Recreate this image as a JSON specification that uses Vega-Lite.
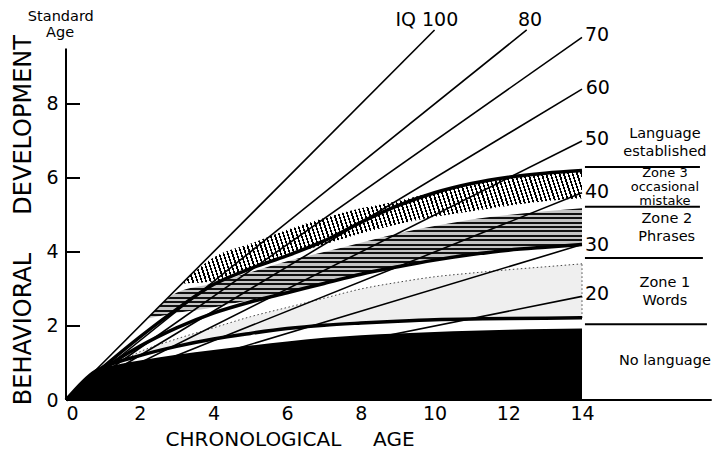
{
  "$schema": "https://vega.github.io/schema/vega-lite/v6.json",
  "width": 652,
  "height": 400,
  "autosize": {"type": "none"},
  "padding": {"left": 66, "top": 0, "right": 0, "bottom": 61},
  "background": "white",
  "config": {
    "view": {"stroke": null},
    "font": "DejaVu Sans",
    "axis": {"grid": false, "domain": false, "ticks": false, "title": null, "labelFont": "DejaVu Sans", "labelFontSize": 19, "labelColor": "black"}
  },
  "datasets": {
    "iq": [
      {"iq": "100", "x": 0, "y": 0}, {"iq": "100", "x": 10, "y": 10},
      {"iq": "80", "x": 0, "y": 0}, {"iq": "80", "x": 12.5, "y": 10},
      {"iq": "70", "x": 0, "y": 0}, {"iq": "70", "x": 14, "y": 9.8},
      {"iq": "60", "x": 0, "y": 0}, {"iq": "60", "x": 14, "y": 8.4},
      {"iq": "50", "x": 0, "y": 0}, {"iq": "50", "x": 14, "y": 7.0},
      {"iq": "40", "x": 0, "y": 0}, {"iq": "40", "x": 14, "y": 5.6},
      {"iq": "30", "x": 0, "y": 0}, {"iq": "30", "x": 14, "y": 4.2},
      {"iq": "20", "x": 0, "y": 0}, {"iq": "20", "x": 14, "y": 2.8}
    ],
    "curves": [
      {"c": "A", "x": 0, "y": 0}, {"c": "A", "x": 0.8, "y": 0.78}, {"c": "A", "x": 1, "y": 0.88}, {"c": "A", "x": 2, "y": 1.2}, {"c": "A", "x": 3, "y": 1.45}, {"c": "A", "x": 4, "y": 1.65}, {"c": "A", "x": 5, "y": 1.8}, {"c": "A", "x": 6, "y": 1.93}, {"c": "A", "x": 7, "y": 2.02}, {"c": "A", "x": 8, "y": 2.08}, {"c": "A", "x": 9, "y": 2.13}, {"c": "A", "x": 10, "y": 2.17}, {"c": "A", "x": 11, "y": 2.19}, {"c": "A", "x": 12, "y": 2.2}, {"c": "A", "x": 13, "y": 2.21}, {"c": "A", "x": 14, "y": 2.22},
      {"c": "B", "x": 0, "y": 0}, {"c": "B", "x": 1, "y": 0.82}, {"c": "B", "x": 2, "y": 1.45}, {"c": "B", "x": 3, "y": 1.95}, {"c": "B", "x": 4, "y": 2.35}, {"c": "B", "x": 5, "y": 2.65}, {"c": "B", "x": 6, "y": 2.9}, {"c": "B", "x": 7, "y": 3.15}, {"c": "B", "x": 8, "y": 3.4}, {"c": "B", "x": 9, "y": 3.6}, {"c": "B", "x": 10, "y": 3.78}, {"c": "B", "x": 11, "y": 3.93}, {"c": "B", "x": 12, "y": 4.05}, {"c": "B", "x": 13, "y": 4.13}, {"c": "B", "x": 14, "y": 4.2},
      {"c": "C", "x": 0, "y": 0}, {"c": "C", "x": 1, "y": 0.88}, {"c": "C", "x": 2, "y": 1.7}, {"c": "C", "x": 3, "y": 2.45}, {"c": "C", "x": 4, "y": 3.12}, {"c": "C", "x": 5, "y": 3.55}, {"c": "C", "x": 6, "y": 3.9}, {"c": "C", "x": 7, "y": 4.3}, {"c": "C", "x": 8, "y": 4.8}, {"c": "C", "x": 9, "y": 5.25}, {"c": "C", "x": 10, "y": 5.6}, {"c": "C", "x": 11, "y": 5.85}, {"c": "C", "x": 12, "y": 6.02}, {"c": "C", "x": 13, "y": 6.13}, {"c": "C", "x": 14, "y": 6.2}
    ],
    "bands": [
      {"band": "Z3", "x": 3.2, "top": 3.2, "bot": 3.15}, {"band": "Z3", "x": 4, "top": 3.85, "bot": 3.2}, {"band": "Z3", "x": 5, "top": 4.22, "bot": 3.55}, {"band": "Z3", "x": 6, "top": 4.6, "bot": 3.9}, {"band": "Z3", "x": 7, "top": 4.92, "bot": 4.2}, {"band": "Z3", "x": 8, "top": 5.18, "bot": 4.5}, {"band": "Z3", "x": 9, "top": 5.38, "bot": 4.75}, {"band": "Z3", "x": 10, "top": 5.62, "bot": 4.95}, {"band": "Z3", "x": 11, "top": 5.86, "bot": 5.1}, {"band": "Z3", "x": 12, "top": 6.02, "bot": 5.25}, {"band": "Z3", "x": 13, "top": 6.13, "bot": 5.37}, {"band": "Z3", "x": 14, "top": 6.2, "bot": 5.45},
      {"band": "Z2", "x": 2.2, "top": 2.2, "bot": 2.2}, {"band": "Z2", "x": 3, "top": 2.9, "bot": 2.35}, {"band": "Z2", "x": 4, "top": 3.15, "bot": 2.5}, {"band": "Z2", "x": 5, "top": 3.45, "bot": 2.7}, {"band": "Z2", "x": 6, "top": 3.75, "bot": 2.9}, {"band": "Z2", "x": 7, "top": 4.0, "bot": 3.15}, {"band": "Z2", "x": 8, "top": 4.25, "bot": 3.4}, {"band": "Z2", "x": 9, "top": 4.5, "bot": 3.6}, {"band": "Z2", "x": 10, "top": 4.7, "bot": 3.78}, {"band": "Z2", "x": 11, "top": 4.88, "bot": 3.93}, {"band": "Z2", "x": 12, "top": 5.0, "bot": 4.05}, {"band": "Z2", "x": 13, "top": 5.1, "bot": 4.13}, {"band": "Z2", "x": 14, "top": 5.18, "bot": 4.2},
      {"band": "Z1", "x": 1.5, "top": 1.05, "bot": 1.04}, {"band": "Z1", "x": 2, "top": 1.3, "bot": 1.2}, {"band": "Z1", "x": 3, "top": 1.65, "bot": 1.45}, {"band": "Z1", "x": 4, "top": 1.95, "bot": 1.65}, {"band": "Z1", "x": 5, "top": 2.25, "bot": 1.8}, {"band": "Z1", "x": 6, "top": 2.5, "bot": 1.93}, {"band": "Z1", "x": 7, "top": 2.75, "bot": 2.02}, {"band": "Z1", "x": 8, "top": 3.0, "bot": 2.08}, {"band": "Z1", "x": 9, "top": 3.18, "bot": 2.13}, {"band": "Z1", "x": 10, "top": 3.33, "bot": 2.17}, {"band": "Z1", "x": 11, "top": 3.43, "bot": 2.19}, {"band": "Z1", "x": 12, "top": 3.52, "bot": 2.2}, {"band": "Z1", "x": 13, "top": 3.6, "bot": 2.21}, {"band": "Z1", "x": 14, "top": 3.68, "bot": 2.22},
      {"band": "NL", "x": 0, "top": 0, "bot": 0}, {"band": "NL", "x": 0.5, "top": 0.5, "bot": 0}, {"band": "NL", "x": 0.8, "top": 0.78, "bot": 0}, {"band": "NL", "x": 1.5, "top": 0.98, "bot": 0}, {"band": "NL", "x": 2, "top": 1.07, "bot": 0}, {"band": "NL", "x": 3, "top": 1.22, "bot": 0}, {"band": "NL", "x": 4, "top": 1.35, "bot": 0}, {"band": "NL", "x": 5, "top": 1.47, "bot": 0}, {"band": "NL", "x": 6, "top": 1.58, "bot": 0}, {"band": "NL", "x": 7, "top": 1.68, "bot": 0}, {"band": "NL", "x": 8, "top": 1.75, "bot": 0}, {"band": "NL", "x": 9, "top": 1.8, "bot": 0}, {"band": "NL", "x": 10, "top": 1.84, "bot": 0}, {"band": "NL", "x": 11, "top": 1.87, "bot": 0}, {"band": "NL", "x": 12, "top": 1.9, "bot": 0}, {"band": "NL", "x": 13, "top": 1.92, "bot": 0}, {"band": "NL", "x": 14, "top": 1.93, "bot": 0}
    ],
    "rules": [
      {"x": 0, "x2": 17.52, "y": 0, "y2": 0},
      {"x": 0, "x2": 0, "y": 0, "y2": 9.5},
      {"x": 0, "x2": 0.38, "y": 2, "y2": 2},
      {"x": 0, "x2": 0.38, "y": 4, "y2": 4},
      {"x": 0, "x2": 0.38, "y": 6, "y2": 6},
      {"x": 0, "x2": 0.38, "y": 8, "y2": 8},
      {"x": 14.08, "x2": 17.2, "y": 6.3, "y2": 6.3},
      {"x": 14.08, "x2": 17.2, "y": 5.22, "y2": 5.22},
      {"x": 14.08, "x2": 17.28, "y": 3.84, "y2": 3.84},
      {"x": 14.08, "x2": 17.39, "y": 2.05, "y2": 2.05}
    ],
    "edges": [
      {"x": 14, "y": 2.22, "y2": 3.68}
    ],
    "texts": [
      {"t": "IQ 100", "x": 9.79, "y": 10.27, "kind": "iq"},
      {"t": "80", "x": 12.59, "y": 10.27, "kind": "iq"},
      {"t": "70", "x": 14.41, "y": 9.86, "kind": "iq"},
      {"t": "60", "x": 14.43, "y": 8.43, "kind": "iq"},
      {"t": "50", "x": 14.41, "y": 7.05, "kind": "iq"},
      {"t": "40", "x": 14.41, "y": 5.62, "kind": "iq"},
      {"t": "30", "x": 14.41, "y": 4.19, "kind": "iq"},
      {"t": "20", "x": 14.41, "y": 2.86, "kind": "iq"},
      {"t": "Language", "x": 16.25, "y": 7.18, "kind": "zone"},
      {"t": "established", "x": 16.25, "y": 6.7, "kind": "zone"},
      {"t": "Zone 3", "x": 16.25, "y": 6.135, "kind": "small"},
      {"t": "occasional", "x": 16.25, "y": 5.757, "kind": "small"},
      {"t": "mistake", "x": 16.25, "y": 5.39, "kind": "small"},
      {"t": "Zone 2", "x": 16.3, "y": 4.89, "kind": "zone"},
      {"t": "Phrases", "x": 16.3, "y": 4.41, "kind": "zone"},
      {"t": "Zone 1", "x": 16.25, "y": 3.16, "kind": "zone"},
      {"t": "Words", "x": 16.25, "y": 2.68, "kind": "zone"},
      {"t": "No language", "x": 16.25, "y": 1.05, "kind": "zone"},
      {"t": "Standard", "x": -0.14, "y": 10.35, "kind": "zone"},
      {"t": "Age", "x": -0.16, "y": 9.92, "kind": "zone"},
      {"t": "CHRONOLOGICAL\u00a0\u00a0\u00a0\u00a0\u00a0AGE", "x": 6.08, "y": -1.08, "kind": "xtitle"},
      {"t": "BEHAVIORAL\u00a0\u00a0\u00a0\u00a0\u00a0DEVELOPMENT", "x": -1.14, "y": 4.86, "kind": "ytitle"}
    ]
  },
  "encoding": {
    "x": {"type": "quantitative", "scale": {"domain": [0, 17.69], "nice": false, "zero": false}, "axis": {"values": [0, 2, 4, 6, 8, 10, 12, 14], "labelPadding": 4, "format": "d"}},
    "y": {"type": "quantitative", "scale": {"domain": [0, 10.81], "nice": false, "zero": false}, "axis": {"values": [0, 2, 4, 6, 8], "labelPadding": 8, "format": "d"}}
  },
  "layer": [
    {
      "data": {"name": "bands"},
      "transform": [{"filter": "datum.band === 'Z1'"}],
      "mark": {"type": "area", "interpolate": "monotone", "fill": "#efefef"},
      "encoding": {
        "x": {"field": "x", "type": "quantitative"},
        "y": {"field": "top", "type": "quantitative"},
        "y2": {"field": "bot"}
      }
    },
    {
      "data": {"name": "bands"},
      "transform": [{"filter": "datum.band === 'Z2'"}],
      "mark": {"type": "area", "interpolate": "monotone", "fill": {"gradient": "linear", "x1": 0, "y1": 0, "x2": 0, "y2": 1, "stops": [
        {"offset": 0, "color": "#111"}, {"offset": 0.018, "color": "#111"}, {"offset": 0.018, "color": "#c4c4c4"}, {"offset": 0.04, "color": "#c4c4c4"},
        {"offset": 0.04, "color": "#111"}, {"offset": 0.058, "color": "#111"}, {"offset": 0.058, "color": "#c4c4c4"}, {"offset": 0.08, "color": "#c4c4c4"},
        {"offset": 0.08, "color": "#111"}, {"offset": 0.098, "color": "#111"}, {"offset": 0.098, "color": "#c4c4c4"}, {"offset": 0.12, "color": "#c4c4c4"},
        {"offset": 0.12, "color": "#111"}, {"offset": 0.138, "color": "#111"}, {"offset": 0.138, "color": "#c4c4c4"}, {"offset": 0.16, "color": "#c4c4c4"},
        {"offset": 0.16, "color": "#111"}, {"offset": 0.178, "color": "#111"}, {"offset": 0.178, "color": "#c4c4c4"}, {"offset": 0.2, "color": "#c4c4c4"},
        {"offset": 0.2, "color": "#111"}, {"offset": 0.218, "color": "#111"}, {"offset": 0.218, "color": "#c4c4c4"}, {"offset": 0.24, "color": "#c4c4c4"},
        {"offset": 0.24, "color": "#111"}, {"offset": 0.258, "color": "#111"}, {"offset": 0.258, "color": "#c4c4c4"}, {"offset": 0.28, "color": "#c4c4c4"},
        {"offset": 0.28, "color": "#111"}, {"offset": 0.298, "color": "#111"}, {"offset": 0.298, "color": "#c4c4c4"}, {"offset": 0.32, "color": "#c4c4c4"},
        {"offset": 0.32, "color": "#111"}, {"offset": 0.338, "color": "#111"}, {"offset": 0.338, "color": "#c4c4c4"}, {"offset": 0.36, "color": "#c4c4c4"},
        {"offset": 0.36, "color": "#111"}, {"offset": 0.378, "color": "#111"}, {"offset": 0.378, "color": "#c4c4c4"}, {"offset": 0.4, "color": "#c4c4c4"},
        {"offset": 0.4, "color": "#111"}, {"offset": 0.418, "color": "#111"}, {"offset": 0.418, "color": "#c4c4c4"}, {"offset": 0.44, "color": "#c4c4c4"},
        {"offset": 0.44, "color": "#111"}, {"offset": 0.458, "color": "#111"}, {"offset": 0.458, "color": "#c4c4c4"}, {"offset": 0.48, "color": "#c4c4c4"},
        {"offset": 0.48, "color": "#111"}, {"offset": 0.498, "color": "#111"}, {"offset": 0.498, "color": "#c4c4c4"}, {"offset": 0.52, "color": "#c4c4c4"},
        {"offset": 0.52, "color": "#111"}, {"offset": 0.538, "color": "#111"}, {"offset": 0.538, "color": "#c4c4c4"}, {"offset": 0.56, "color": "#c4c4c4"},
        {"offset": 0.56, "color": "#111"}, {"offset": 0.578, "color": "#111"}, {"offset": 0.578, "color": "#c4c4c4"}, {"offset": 0.6, "color": "#c4c4c4"},
        {"offset": 0.6, "color": "#111"}, {"offset": 0.618, "color": "#111"}, {"offset": 0.618, "color": "#c4c4c4"}, {"offset": 0.64, "color": "#c4c4c4"},
        {"offset": 0.64, "color": "#111"}, {"offset": 0.658, "color": "#111"}, {"offset": 0.658, "color": "#c4c4c4"}, {"offset": 0.68, "color": "#c4c4c4"},
        {"offset": 0.68, "color": "#111"}, {"offset": 0.698, "color": "#111"}, {"offset": 0.698, "color": "#c4c4c4"}, {"offset": 0.72, "color": "#c4c4c4"},
        {"offset": 0.72, "color": "#111"}, {"offset": 0.738, "color": "#111"}, {"offset": 0.738, "color": "#c4c4c4"}, {"offset": 0.76, "color": "#c4c4c4"},
        {"offset": 0.76, "color": "#111"}, {"offset": 0.778, "color": "#111"}, {"offset": 0.778, "color": "#c4c4c4"}, {"offset": 0.8, "color": "#c4c4c4"},
        {"offset": 0.8, "color": "#111"}, {"offset": 0.818, "color": "#111"}, {"offset": 0.818, "color": "#c4c4c4"}, {"offset": 0.84, "color": "#c4c4c4"},
        {"offset": 0.84, "color": "#111"}, {"offset": 0.858, "color": "#111"}, {"offset": 0.858, "color": "#c4c4c4"}, {"offset": 0.88, "color": "#c4c4c4"},
        {"offset": 0.88, "color": "#111"}, {"offset": 0.898, "color": "#111"}, {"offset": 0.898, "color": "#c4c4c4"}, {"offset": 0.92, "color": "#c4c4c4"},
        {"offset": 0.92, "color": "#111"}, {"offset": 0.938, "color": "#111"}, {"offset": 0.938, "color": "#c4c4c4"}, {"offset": 0.96, "color": "#c4c4c4"},
        {"offset": 0.96, "color": "#111"}, {"offset": 0.978, "color": "#111"}, {"offset": 0.978, "color": "#c4c4c4"}, {"offset": 1, "color": "#c4c4c4"}
      ]}},
      "encoding": {
        "x": {"field": "x", "type": "quantitative"},
        "y": {"field": "top", "type": "quantitative"},
        "y2": {"field": "bot"}
      }
    },
    {
      "data": {"name": "bands"},
      "transform": [{"filter": "datum.band === 'Z3'"}],
      "mark": {"type": "area", "interpolate": "monotone", "fill": {"gradient": "linear", "x1": 0, "y1": 1, "x2": 1.1, "y2": 0.897, "stops": [
        {"offset": 0, "color": "#000"}, {"offset": 0.004, "color": "#000"}, {"offset": 0.004, "color": "#fff"}, {"offset": 0.01, "color": "#fff"},
        {"offset": 0.01, "color": "#000"}, {"offset": 0.014, "color": "#000"}, {"offset": 0.014, "color": "#fff"}, {"offset": 0.02, "color": "#fff"},
        {"offset": 0.02, "color": "#000"}, {"offset": 0.024, "color": "#000"}, {"offset": 0.024, "color": "#fff"}, {"offset": 0.03, "color": "#fff"},
        {"offset": 0.03, "color": "#000"}, {"offset": 0.034, "color": "#000"}, {"offset": 0.034, "color": "#fff"}, {"offset": 0.04, "color": "#fff"},
        {"offset": 0.04, "color": "#000"}, {"offset": 0.044, "color": "#000"}, {"offset": 0.044, "color": "#fff"}, {"offset": 0.05, "color": "#fff"},
        {"offset": 0.05, "color": "#000"}, {"offset": 0.054, "color": "#000"}, {"offset": 0.054, "color": "#fff"}, {"offset": 0.06, "color": "#fff"},
        {"offset": 0.06, "color": "#000"}, {"offset": 0.064, "color": "#000"}, {"offset": 0.064, "color": "#fff"}, {"offset": 0.07, "color": "#fff"},
        {"offset": 0.07, "color": "#000"}, {"offset": 0.074, "color": "#000"}, {"offset": 0.074, "color": "#fff"}, {"offset": 0.08, "color": "#fff"},
        {"offset": 0.08, "color": "#000"}, {"offset": 0.084, "color": "#000"}, {"offset": 0.084, "color": "#fff"}, {"offset": 0.09, "color": "#fff"},
        {"offset": 0.09, "color": "#000"}, {"offset": 0.094, "color": "#000"}, {"offset": 0.094, "color": "#fff"}, {"offset": 0.1, "color": "#fff"},
        {"offset": 0.1, "color": "#000"}, {"offset": 0.104, "color": "#000"}, {"offset": 0.104, "color": "#fff"}, {"offset": 0.11, "color": "#fff"},
        {"offset": 0.11, "color": "#000"}, {"offset": 0.114, "color": "#000"}, {"offset": 0.114, "color": "#fff"}, {"offset": 0.12, "color": "#fff"},
        {"offset": 0.12, "color": "#000"}, {"offset": 0.124, "color": "#000"}, {"offset": 0.124, "color": "#fff"}, {"offset": 0.13, "color": "#fff"},
        {"offset": 0.13, "color": "#000"}, {"offset": 0.134, "color": "#000"}, {"offset": 0.134, "color": "#fff"}, {"offset": 0.14, "color": "#fff"},
        {"offset": 0.14, "color": "#000"}, {"offset": 0.144, "color": "#000"}, {"offset": 0.144, "color": "#fff"}, {"offset": 0.15, "color": "#fff"},
        {"offset": 0.15, "color": "#000"}, {"offset": 0.154, "color": "#000"}, {"offset": 0.154, "color": "#fff"}, {"offset": 0.16, "color": "#fff"},
        {"offset": 0.16, "color": "#000"}, {"offset": 0.164, "color": "#000"}, {"offset": 0.164, "color": "#fff"}, {"offset": 0.17, "color": "#fff"},
        {"offset": 0.17, "color": "#000"}, {"offset": 0.174, "color": "#000"}, {"offset": 0.174, "color": "#fff"}, {"offset": 0.18, "color": "#fff"},
        {"offset": 0.18, "color": "#000"}, {"offset": 0.184, "color": "#000"}, {"offset": 0.184, "color": "#fff"}, {"offset": 0.19, "color": "#fff"},
        {"offset": 0.19, "color": "#000"}, {"offset": 0.194, "color": "#000"}, {"offset": 0.194, "color": "#fff"}, {"offset": 0.2, "color": "#fff"},
        {"offset": 0.2, "color": "#000"}, {"offset": 0.204, "color": "#000"}, {"offset": 0.204, "color": "#fff"}, {"offset": 0.21, "color": "#fff"},
        {"offset": 0.21, "color": "#000"}, {"offset": 0.214, "color": "#000"}, {"offset": 0.214, "color": "#fff"}, {"offset": 0.22, "color": "#fff"},
        {"offset": 0.22, "color": "#000"}, {"offset": 0.224, "color": "#000"}, {"offset": 0.224, "color": "#fff"}, {"offset": 0.23, "color": "#fff"},
        {"offset": 0.23, "color": "#000"}, {"offset": 0.234, "color": "#000"}, {"offset": 0.234, "color": "#fff"}, {"offset": 0.24, "color": "#fff"},
        {"offset": 0.24, "color": "#000"}, {"offset": 0.244, "color": "#000"}, {"offset": 0.244, "color": "#fff"}, {"offset": 0.25, "color": "#fff"},
        {"offset": 0.25, "color": "#000"}, {"offset": 0.254, "color": "#000"}, {"offset": 0.254, "color": "#fff"}, {"offset": 0.26, "color": "#fff"},
        {"offset": 0.26, "color": "#000"}, {"offset": 0.264, "color": "#000"}, {"offset": 0.264, "color": "#fff"}, {"offset": 0.27, "color": "#fff"},
        {"offset": 0.27, "color": "#000"}, {"offset": 0.274, "color": "#000"}, {"offset": 0.274, "color": "#fff"}, {"offset": 0.28, "color": "#fff"},
        {"offset": 0.28, "color": "#000"}, {"offset": 0.284, "color": "#000"}, {"offset": 0.284, "color": "#fff"}, {"offset": 0.29, "color": "#fff"},
        {"offset": 0.29, "color": "#000"}, {"offset": 0.294, "color": "#000"}, {"offset": 0.294, "color": "#fff"}, {"offset": 0.3, "color": "#fff"},
        {"offset": 0.3, "color": "#000"}, {"offset": 0.304, "color": "#000"}, {"offset": 0.304, "color": "#fff"}, {"offset": 0.31, "color": "#fff"},
        {"offset": 0.31, "color": "#000"}, {"offset": 0.314, "color": "#000"}, {"offset": 0.314, "color": "#fff"}, {"offset": 0.32, "color": "#fff"},
        {"offset": 0.32, "color": "#000"}, {"offset": 0.324, "color": "#000"}, {"offset": 0.324, "color": "#fff"}, {"offset": 0.33, "color": "#fff"},
        {"offset": 0.33, "color": "#000"}, {"offset": 0.334, "color": "#000"}, {"offset": 0.334, "color": "#fff"}, {"offset": 0.34, "color": "#fff"},
        {"offset": 0.34, "color": "#000"}, {"offset": 0.344, "color": "#000"}, {"offset": 0.344, "color": "#fff"}, {"offset": 0.35, "color": "#fff"},
        {"offset": 0.35, "color": "#000"}, {"offset": 0.354, "color": "#000"}, {"offset": 0.354, "color": "#fff"}, {"offset": 0.36, "color": "#fff"},
        {"offset": 0.36, "color": "#000"}, {"offset": 0.364, "color": "#000"}, {"offset": 0.364, "color": "#fff"}, {"offset": 0.37, "color": "#fff"},
        {"offset": 0.37, "color": "#000"}, {"offset": 0.374, "color": "#000"}, {"offset": 0.374, "color": "#fff"}, {"offset": 0.38, "color": "#fff"},
        {"offset": 0.38, "color": "#000"}, {"offset": 0.384, "color": "#000"}, {"offset": 0.384, "color": "#fff"}, {"offset": 0.39, "color": "#fff"},
        {"offset": 0.39, "color": "#000"}, {"offset": 0.394, "color": "#000"}, {"offset": 0.394, "color": "#fff"}, {"offset": 0.4, "color": "#fff"},
        {"offset": 0.4, "color": "#000"}, {"offset": 0.404, "color": "#000"}, {"offset": 0.404, "color": "#fff"}, {"offset": 0.41, "color": "#fff"},
        {"offset": 0.41, "color": "#000"}, {"offset": 0.414, "color": "#000"}, {"offset": 0.414, "color": "#fff"}, {"offset": 0.42, "color": "#fff"},
        {"offset": 0.42, "color": "#000"}, {"offset": 0.424, "color": "#000"}, {"offset": 0.424, "color": "#fff"}, {"offset": 0.43, "color": "#fff"},
        {"offset": 0.43, "color": "#000"}, {"offset": 0.434, "color": "#000"}, {"offset": 0.434, "color": "#fff"}, {"offset": 0.44, "color": "#fff"},
        {"offset": 0.44, "color": "#000"}, {"offset": 0.444, "color": "#000"}, {"offset": 0.444, "color": "#fff"}, {"offset": 0.45, "color": "#fff"},
        {"offset": 0.45, "color": "#000"}, {"offset": 0.454, "color": "#000"}, {"offset": 0.454, "color": "#fff"}, {"offset": 0.46, "color": "#fff"},
        {"offset": 0.46, "color": "#000"}, {"offset": 0.464, "color": "#000"}, {"offset": 0.464, "color": "#fff"}, {"offset": 0.47, "color": "#fff"},
        {"offset": 0.47, "color": "#000"}, {"offset": 0.474, "color": "#000"}, {"offset": 0.474, "color": "#fff"}, {"offset": 0.48, "color": "#fff"},
        {"offset": 0.48, "color": "#000"}, {"offset": 0.484, "color": "#000"}, {"offset": 0.484, "color": "#fff"}, {"offset": 0.49, "color": "#fff"},
        {"offset": 0.49, "color": "#000"}, {"offset": 0.494, "color": "#000"}, {"offset": 0.494, "color": "#fff"}, {"offset": 0.5, "color": "#fff"},
        {"offset": 0.5, "color": "#000"}, {"offset": 0.504, "color": "#000"}, {"offset": 0.504, "color": "#fff"}, {"offset": 0.51, "color": "#fff"},
        {"offset": 0.51, "color": "#000"}, {"offset": 0.514, "color": "#000"}, {"offset": 0.514, "color": "#fff"}, {"offset": 0.52, "color": "#fff"},
        {"offset": 0.52, "color": "#000"}, {"offset": 0.524, "color": "#000"}, {"offset": 0.524, "color": "#fff"}, {"offset": 0.53, "color": "#fff"},
        {"offset": 0.53, "color": "#000"}, {"offset": 0.534, "color": "#000"}, {"offset": 0.534, "color": "#fff"}, {"offset": 0.54, "color": "#fff"},
        {"offset": 0.54, "color": "#000"}, {"offset": 0.544, "color": "#000"}, {"offset": 0.544, "color": "#fff"}, {"offset": 0.55, "color": "#fff"},
        {"offset": 0.55, "color": "#000"}, {"offset": 0.554, "color": "#000"}, {"offset": 0.554, "color": "#fff"}, {"offset": 0.56, "color": "#fff"},
        {"offset": 0.56, "color": "#000"}, {"offset": 0.564, "color": "#000"}, {"offset": 0.564, "color": "#fff"}, {"offset": 0.57, "color": "#fff"},
        {"offset": 0.57, "color": "#000"}, {"offset": 0.574, "color": "#000"}, {"offset": 0.574, "color": "#fff"}, {"offset": 0.58, "color": "#fff"},
        {"offset": 0.58, "color": "#000"}, {"offset": 0.584, "color": "#000"}, {"offset": 0.584, "color": "#fff"}, {"offset": 0.59, "color": "#fff"},
        {"offset": 0.59, "color": "#000"}, {"offset": 0.594, "color": "#000"}, {"offset": 0.594, "color": "#fff"}, {"offset": 0.6, "color": "#fff"},
        {"offset": 0.6, "color": "#000"}, {"offset": 0.604, "color": "#000"}, {"offset": 0.604, "color": "#fff"}, {"offset": 0.61, "color": "#fff"},
        {"offset": 0.61, "color": "#000"}, {"offset": 0.614, "color": "#000"}, {"offset": 0.614, "color": "#fff"}, {"offset": 0.62, "color": "#fff"},
        {"offset": 0.62, "color": "#000"}, {"offset": 0.624, "color": "#000"}, {"offset": 0.624, "color": "#fff"}, {"offset": 0.63, "color": "#fff"},
        {"offset": 0.63, "color": "#000"}, {"offset": 0.634, "color": "#000"}, {"offset": 0.634, "color": "#fff"}, {"offset": 0.64, "color": "#fff"},
        {"offset": 0.64, "color": "#000"}, {"offset": 0.644, "color": "#000"}, {"offset": 0.644, "color": "#fff"}, {"offset": 0.65, "color": "#fff"},
        {"offset": 0.65, "color": "#000"}, {"offset": 0.654, "color": "#000"}, {"offset": 0.654, "color": "#fff"}, {"offset": 0.66, "color": "#fff"},
        {"offset": 0.66, "color": "#000"}, {"offset": 0.664, "color": "#000"}, {"offset": 0.664, "color": "#fff"}, {"offset": 0.67, "color": "#fff"},
        {"offset": 0.67, "color": "#000"}, {"offset": 0.674, "color": "#000"}, {"offset": 0.674, "color": "#fff"}, {"offset": 0.68, "color": "#fff"},
        {"offset": 0.68, "color": "#000"}, {"offset": 0.684, "color": "#000"}, {"offset": 0.684, "color": "#fff"}, {"offset": 0.69, "color": "#fff"},
        {"offset": 0.69, "color": "#000"}, {"offset": 0.694, "color": "#000"}, {"offset": 0.694, "color": "#fff"}, {"offset": 0.7, "color": "#fff"},
        {"offset": 0.7, "color": "#000"}, {"offset": 0.704, "color": "#000"}, {"offset": 0.704, "color": "#fff"}, {"offset": 0.71, "color": "#fff"},
        {"offset": 0.71, "color": "#000"}, {"offset": 0.714, "color": "#000"}, {"offset": 0.714, "color": "#fff"}, {"offset": 0.72, "color": "#fff"},
        {"offset": 0.72, "color": "#000"}, {"offset": 0.724, "color": "#000"}, {"offset": 0.724, "color": "#fff"}, {"offset": 0.73, "color": "#fff"},
        {"offset": 0.73, "color": "#000"}, {"offset": 0.734, "color": "#000"}, {"offset": 0.734, "color": "#fff"}, {"offset": 0.74, "color": "#fff"},
        {"offset": 0.74, "color": "#000"}, {"offset": 0.744, "color": "#000"}, {"offset": 0.744, "color": "#fff"}, {"offset": 0.75, "color": "#fff"},
        {"offset": 0.75, "color": "#000"}, {"offset": 0.754, "color": "#000"}, {"offset": 0.754, "color": "#fff"}, {"offset": 0.76, "color": "#fff"},
        {"offset": 0.76, "color": "#000"}, {"offset": 0.764, "color": "#000"}, {"offset": 0.764, "color": "#fff"}, {"offset": 0.77, "color": "#fff"},
        {"offset": 0.77, "color": "#000"}, {"offset": 0.774, "color": "#000"}, {"offset": 0.774, "color": "#fff"}, {"offset": 0.78, "color": "#fff"},
        {"offset": 0.78, "color": "#000"}, {"offset": 0.784, "color": "#000"}, {"offset": 0.784, "color": "#fff"}, {"offset": 0.79, "color": "#fff"},
        {"offset": 0.79, "color": "#000"}, {"offset": 0.794, "color": "#000"}, {"offset": 0.794, "color": "#fff"}, {"offset": 0.8, "color": "#fff"},
        {"offset": 0.8, "color": "#000"}, {"offset": 0.804, "color": "#000"}, {"offset": 0.804, "color": "#fff"}, {"offset": 0.81, "color": "#fff"},
        {"offset": 0.81, "color": "#000"}, {"offset": 0.814, "color": "#000"}, {"offset": 0.814, "color": "#fff"}, {"offset": 0.82, "color": "#fff"},
        {"offset": 0.82, "color": "#000"}, {"offset": 0.824, "color": "#000"}, {"offset": 0.824, "color": "#fff"}, {"offset": 0.83, "color": "#fff"},
        {"offset": 0.83, "color": "#000"}, {"offset": 0.834, "color": "#000"}, {"offset": 0.834, "color": "#fff"}, {"offset": 0.84, "color": "#fff"},
        {"offset": 0.84, "color": "#000"}, {"offset": 0.844, "color": "#000"}, {"offset": 0.844, "color": "#fff"}, {"offset": 0.85, "color": "#fff"},
        {"offset": 0.85, "color": "#000"}, {"offset": 0.854, "color": "#000"}, {"offset": 0.854, "color": "#fff"}, {"offset": 0.86, "color": "#fff"},
        {"offset": 0.86, "color": "#000"}, {"offset": 0.864, "color": "#000"}, {"offset": 0.864, "color": "#fff"}, {"offset": 0.87, "color": "#fff"},
        {"offset": 0.87, "color": "#000"}, {"offset": 0.874, "color": "#000"}, {"offset": 0.874, "color": "#fff"}, {"offset": 0.88, "color": "#fff"},
        {"offset": 0.88, "color": "#000"}, {"offset": 0.884, "color": "#000"}, {"offset": 0.884, "color": "#fff"}, {"offset": 0.89, "color": "#fff"},
        {"offset": 0.89, "color": "#000"}, {"offset": 0.894, "color": "#000"}, {"offset": 0.894, "color": "#fff"}, {"offset": 0.9, "color": "#fff"},
        {"offset": 0.9, "color": "#000"}, {"offset": 0.904, "color": "#000"}, {"offset": 0.904, "color": "#fff"}, {"offset": 0.91, "color": "#fff"},
        {"offset": 0.91, "color": "#000"}, {"offset": 0.914, "color": "#000"}, {"offset": 0.914, "color": "#fff"}, {"offset": 0.92, "color": "#fff"},
        {"offset": 0.92, "color": "#000"}, {"offset": 0.924, "color": "#000"}, {"offset": 0.924, "color": "#fff"}, {"offset": 0.93, "color": "#fff"},
        {"offset": 0.93, "color": "#000"}, {"offset": 0.934, "color": "#000"}, {"offset": 0.934, "color": "#fff"}, {"offset": 0.94, "color": "#fff"},
        {"offset": 0.94, "color": "#000"}, {"offset": 0.944, "color": "#000"}, {"offset": 0.944, "color": "#fff"}, {"offset": 0.95, "color": "#fff"},
        {"offset": 0.95, "color": "#000"}, {"offset": 0.954, "color": "#000"}, {"offset": 0.954, "color": "#fff"}, {"offset": 0.96, "color": "#fff"},
        {"offset": 0.96, "color": "#000"}, {"offset": 0.964, "color": "#000"}, {"offset": 0.964, "color": "#fff"}, {"offset": 0.97, "color": "#fff"},
        {"offset": 0.97, "color": "#000"}, {"offset": 0.974, "color": "#000"}, {"offset": 0.974, "color": "#fff"}, {"offset": 0.98, "color": "#fff"},
        {"offset": 0.98, "color": "#000"}, {"offset": 0.984, "color": "#000"}, {"offset": 0.984, "color": "#fff"}, {"offset": 0.99, "color": "#fff"},
        {"offset": 0.99, "color": "#000"}, {"offset": 0.994, "color": "#000"}, {"offset": 0.994, "color": "#fff"}, {"offset": 1, "color": "#fff"}
      ]}},
      "encoding": {
        "x": {"field": "x", "type": "quantitative"},
        "y": {"field": "top", "type": "quantitative"},
        "y2": {"field": "bot"}
      }
    },
    {
      "data": {"name": "bands"},
      "transform": [{"filter": "datum.band === 'NL'"}],
      "mark": {"type": "area", "interpolate": "monotone", "fill": "#000"},
      "encoding": {
        "x": {"field": "x", "type": "quantitative"},
        "y": {"field": "top", "type": "quantitative"},
        "y2": {"field": "bot"}
      }
    },
    {
      "data": {"name": "bands"},
      "transform": [{"filter": "datum.band === 'Z1'"}],
      "mark": {"type": "line", "interpolate": "monotone", "color": "#444", "strokeWidth": 1, "strokeDash": [1.5, 2.5]},
      "encoding": {
        "x": {"field": "x", "type": "quantitative"},
        "y": {"field": "top", "type": "quantitative"}
      }
    },
    {
      "data": {"name": "edges"},
      "mark": {"type": "rule", "color": "#444", "strokeWidth": 1, "strokeDash": [1.5, 2.5]},
      "encoding": {
        "x": {"field": "x", "type": "quantitative"},
        "y": {"field": "y", "type": "quantitative"},
        "y2": {"field": "y2"}
      }
    },
    {
      "data": {"name": "iq"},
      "mark": {"type": "line", "color": "black", "strokeWidth": 1.6},
      "encoding": {
        "x": {"field": "x", "type": "quantitative"},
        "y": {"field": "y", "type": "quantitative"},
        "detail": {"field": "iq"}
      }
    },
    {
      "data": {"name": "curves"},
      "mark": {"type": "line", "color": "black", "strokeWidth": 3.5, "interpolate": "monotone"},
      "encoding": {
        "x": {"field": "x", "type": "quantitative"},
        "y": {"field": "y", "type": "quantitative"},
        "detail": {"field": "c"}
      }
    },
    {
      "data": {"name": "rules"},
      "mark": {"type": "rule", "color": "black", "strokeWidth": 2},
      "encoding": {
        "x": {"field": "x", "type": "quantitative"},
        "x2": {"field": "x2"},
        "y": {"field": "y", "type": "quantitative"},
        "y2": {"field": "y2"}
      }
    },
    {
      "data": {"name": "texts"},
      "transform": [{"filter": "datum.kind === 'iq'"}],
      "mark": {"type": "text", "fontSize": 19, "font": "DejaVu Sans", "align": "center", "baseline": "middle", "color": "black"},
      "encoding": {
        "x": {"field": "x", "type": "quantitative"},
        "y": {"field": "y", "type": "quantitative"},
        "text": {"field": "t"}
      }
    },
    {
      "data": {"name": "texts"},
      "transform": [{"filter": "datum.kind === 'zone'"}],
      "mark": {"type": "text", "fontSize": 14.5, "font": "DejaVu Sans", "align": "center", "baseline": "middle", "color": "black"},
      "encoding": {
        "x": {"field": "x", "type": "quantitative"},
        "y": {"field": "y", "type": "quantitative"},
        "text": {"field": "t"}
      }
    },
    {
      "data": {"name": "texts"},
      "transform": [{"filter": "datum.kind === 'small'"}],
      "mark": {"type": "text", "fontSize": 13, "font": "DejaVu Sans", "align": "center", "baseline": "middle", "color": "black"},
      "encoding": {
        "x": {"field": "x", "type": "quantitative"},
        "y": {"field": "y", "type": "quantitative"},
        "text": {"field": "t"}
      }
    },
    {
      "data": {"name": "texts"},
      "transform": [{"filter": "datum.kind === 'xtitle'"}],
      "mark": {"type": "text", "fontSize": 20, "font": "DejaVu Sans", "align": "center", "baseline": "middle", "color": "black"},
      "encoding": {
        "x": {"field": "x", "type": "quantitative"},
        "y": {"field": "y", "type": "quantitative"},
        "text": {"field": "t"}
      }
    },
    {
      "data": {"name": "texts"},
      "transform": [{"filter": "datum.kind === 'ytitle'"}],
      "mark": {"type": "text", "fontSize": 24, "font": "DejaVu Sans", "align": "center", "baseline": "middle", "angle": 270, "color": "black"},
      "encoding": {
        "x": {"field": "x", "type": "quantitative"},
        "y": {"field": "y", "type": "quantitative"},
        "text": {"field": "t"}
      }
    }
  ]
}
